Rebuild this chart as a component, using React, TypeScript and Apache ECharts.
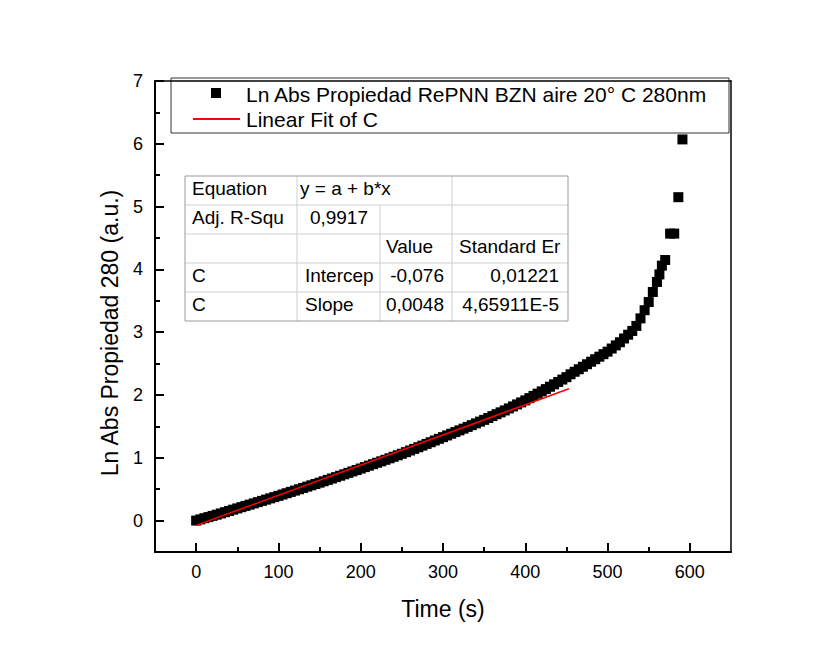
import React, { useEffect, useRef } from 'react';
import * as echarts from 'echarts';

// ---- data ----
const timeS = [
  0, 5, 10, 15, 20, 25, 30, 35, 40, 45, 50, 55, 60, 65, 70, 75, 80, 85, 90, 95,
  100, 105, 110, 115, 120, 125, 130, 135, 140, 145, 150, 155, 160, 165, 170, 175, 180, 185, 190, 195,
  200, 205, 210, 215, 220, 225, 230, 235, 240, 245, 250, 255, 260, 265, 270, 275, 280, 285, 290, 295,
  300, 305, 310, 315, 320, 325, 330, 335, 340, 345, 350, 355, 360, 365, 370, 375, 380, 385, 390, 395,
  400, 405, 410, 415, 420, 425, 430, 435, 440, 445, 450, 455, 460, 465, 470, 475, 480, 485, 490, 495,
  500, 505, 510, 515, 520, 525, 530, 535, 540, 545, 550, 555, 560, 563, 566, 570, 576, 581, 586, 591,
];
const lnAbs = [
  0.0, 0.019, 0.038, 0.056, 0.075, 0.094, 0.114, 0.134, 0.154, 0.174, 0.194, 0.214, 0.234, 0.254, 0.274, 0.294, 0.314, 0.334, 0.354, 0.374,
  0.394, 0.415, 0.436, 0.457, 0.478, 0.499, 0.52, 0.541, 0.562, 0.583, 0.604, 0.626, 0.648, 0.67, 0.692, 0.714, 0.737, 0.76, 0.783, 0.806,
  0.829, 0.852, 0.875, 0.898, 0.921, 0.944, 0.968, 0.992, 1.016, 1.04, 1.064, 1.09, 1.116, 1.142, 1.168, 1.194, 1.221, 1.248, 1.275, 1.302,
  1.329, 1.356, 1.383, 1.41, 1.437, 1.464, 1.492, 1.52, 1.548, 1.576, 1.604, 1.634, 1.664, 1.694, 1.724, 1.754, 1.786, 1.818, 1.85, 1.882,
  1.914, 1.95, 1.986, 2.022, 2.058, 2.094, 2.132, 2.17, 2.208, 2.246, 2.284, 2.33, 2.37, 2.41, 2.45, 2.49, 2.53, 2.57, 2.61, 2.65,
  2.69, 2.74, 2.79, 2.84, 2.9, 2.96, 3.02, 3.1, 3.22, 3.35, 3.48, 3.64, 3.8, 3.92, 4.06, 4.15, 4.57, 4.57, 5.15, 6.07,
];
const fitIntercept = -0.076;
const fitSlope = 0.0048;
const fitRange = [0, 453];

const xMajorTicks = [0, 100, 200, 300, 400, 500, 600];
const xMinorTicks = [50, 150, 250, 350, 450, 550];
const yMajorTicks = [0, 1, 2, 3, 4, 5, 6, 7];
const yMinorTicks = [0.5, 1.5, 2.5, 3.5, 4.5, 5.5, 6.5];

const seriesName = 'Ln Abs Propiedad RePNN BZN aire 20° C 280nm';
const fitName = 'Linear Fit of C';
const xTitle = 'Time (s)';
const yTitle = 'Ln Abs Propiedad 280 (a.u.)';

const tableRows = [
  ['Equation', 'y = a + b*x', '', ''],
  ['Adj. R-Squ', '0,9917', '', ''],
  ['', '', 'Value', 'Standard Er'],
  ['C', 'Intercep', '-0,076', '0,01221'],
  ['C', 'Slope', '0,0048', '4,65911E-5'],
];

const FONT = 'Liberation Sans';

export default function App() {
  const ref = useRef<HTMLDivElement>(null);

  useEffect(() => {
    if (!ref.current) return;
    const chart = echarts.init(ref.current, null, { renderer: 'svg' });

    // table geometry (layout only)
    const colX = [185, 297, 380, 452, 568];
    const rowY = [176, 205, 234, 263, 292, 321];
    const cellPos = (r: number, c: number): [number, string] => {
      if (c === 0) return [192, 'left'];
      if (c === 1) {
        if (r === 0) return [300, 'left'];
        if (r === 1) return [368, 'right'];
        return [305, 'left'];
      }
      if (c === 2) {
        if (r === 2) return [386, 'left'];
        return [444, 'right'];
      }
      if (r === 2) return [459, 'left'];
      return [559, 'right'];
    };

    const inner = { stroke: '#cfcfcf', lineWidth: 1 };
    const tableEls: any[] = [];
    for (let i = 1; i < rowY.length - 1; i++) {
      tableEls.push({ type: 'line', shape: { x1: colX[0], y1: rowY[i], x2: colX[4], y2: rowY[i] }, style: inner });
    }
    tableEls.push({ type: 'line', shape: { x1: colX[1], y1: rowY[0], x2: colX[1], y2: rowY[5] }, style: inner });
    tableEls.push({ type: 'line', shape: { x1: colX[2], y1: rowY[1], x2: colX[2], y2: rowY[5] }, style: inner });
    tableEls.push({ type: 'line', shape: { x1: colX[3], y1: rowY[0], x2: colX[3], y2: rowY[5] }, style: inner });
    tableEls.push({
      type: 'rect',
      shape: { x: colX[0], y: rowY[0], width: colX[4] - colX[0], height: rowY[5] - rowY[0] },
      style: { fill: 'none', stroke: '#9a9a9a', lineWidth: 1 },
    });
    tableRows.forEach((row, r) => {
      row.forEach((txt, c) => {
        if (!txt) return;
        const [x, align] = cellPos(r, c);
        tableEls.push({
          type: 'text',
          x,
          y: rowY[r] + 12,
          style: { text: txt, fontSize: 19, fontFamily: FONT, fill: '#000', align, verticalAlign: 'middle' },
        });
      });
    });

    const axLine = { color: '#000', width: 2 };
    const frameLine = { color: '#000', width: 1.5 };

    const baseX = { type: 'value', min: -50, max: 650, interval: 50, splitLine: { show: false } };
    const baseY = { type: 'value', min: -0.5, max: 7, interval: 0.5, splitLine: { show: false } };

    chart.setOption({
      animation: false,
      backgroundColor: '#ffffff',
      textStyle: { fontFamily: FONT },
      grid: { left: 155, top: 81, width: 576, height: 471 },
      xAxis: [
        {
          ...baseX,
          position: 'bottom',
          axisLine: { show: true, onZero: false, lineStyle: axLine },
          axisTick: { show: true, inside: true, length: 9, customValues: xMajorTicks, lineStyle: axLine },
          axisLabel: { customValues: xMajorTicks, fontSize: 18, color: '#000', fontFamily: FONT, margin: 11 },
        },
        {
          ...baseX,
          position: 'bottom',
          axisLine: { show: false, onZero: false },
          axisTick: { show: true, inside: true, length: 5, customValues: xMinorTicks, lineStyle: axLine },
          axisLabel: { show: false },
        },
        {
          ...baseX,
          position: 'top',
          axisLine: { show: true, onZero: false, lineStyle: frameLine },
          axisTick: { show: false },
          axisLabel: { show: false },
        },
      ],
      yAxis: [
        {
          ...baseY,
          position: 'left',
          axisLine: { show: true, onZero: false, lineStyle: axLine },
          axisTick: { show: true, inside: true, length: 9, customValues: yMajorTicks, lineStyle: axLine },
          axisLabel: { customValues: yMajorTicks, fontSize: 18, color: '#000', fontFamily: FONT, margin: 12 },
        },
        {
          ...baseY,
          position: 'left',
          axisLine: { show: false, onZero: false },
          axisTick: { show: true, inside: true, length: 5, customValues: yMinorTicks, lineStyle: axLine },
          axisLabel: { show: false },
        },
        {
          ...baseY,
          position: 'right',
          axisLine: { show: true, onZero: false, lineStyle: frameLine },
          axisTick: { show: false },
          axisLabel: { show: false },
        },
      ],
      series: [
        {
          type: 'scatter',
          name: seriesName,
          xAxisIndex: 0,
          yAxisIndex: 0,
          data: timeS.map((t, i) => [t, lnAbs[i]]),
          symbol: 'rect',
          symbolSize: 10,
          itemStyle: { color: '#000', opacity: 1 },
        },
        {
          type: 'line',
          name: fitName,
          xAxisIndex: 0,
          yAxisIndex: 0,
          data: fitRange.map((t) => [t, fitIntercept + fitSlope * t]),
          symbol: 'none',
          showSymbol: false,
          lineStyle: { color: '#ff0000', width: 1.5 },
        },
      ],
      graphic: [
        {
          type: 'group',
          z: 100,
          children: [
            {
              type: 'rect',
              shape: { x: 171, y: 78, width: 558, height: 55 },
              style: { fill: '#ffffff', stroke: '#333333', lineWidth: 1 },
            },
            {
              type: 'rect',
              shape: { x: 211, y: 88, width: 10, height: 10 },
              style: { fill: '#000000' },
            },
            {
              type: 'text',
              x: 246,
              y: 94,
              style: { text: seriesName, fontSize: 21, fontFamily: FONT, fill: '#000', align: 'left', verticalAlign: 'middle' },
            },
            {
              type: 'line',
              shape: { x1: 193, y1: 119, x2: 240, y2: 119 },
              style: { stroke: '#ff0000', lineWidth: 2 },
            },
            {
              type: 'text',
              x: 246,
              y: 119,
              style: { text: fitName, fontSize: 21, fontFamily: FONT, fill: '#000', align: 'left', verticalAlign: 'middle' },
            },
          ],
        },
        { type: 'group', z: 100, children: tableEls },
        {
          type: 'text',
          x: 443,
          y: 609,
          z: 100,
          style: { text: xTitle, fontSize: 23, fontFamily: FONT, fill: '#000', align: 'center', verticalAlign: 'middle' },
        },
        {
          type: 'text',
          x: 110,
          y: 333,
          z: 100,
          rotation: Math.PI / 2,
          style: { text: yTitle, fontSize: 23, fontFamily: FONT, fill: '#000', align: 'center', verticalAlign: 'middle' },
        },
      ],
    });

    return () => chart.dispose();
  }, []);

  return (
    <div
      ref={ref}
      style={{ position: 'absolute', left: 0, top: 0, width: 835, height: 656, background: '#fff' }}
    />
  );
}
